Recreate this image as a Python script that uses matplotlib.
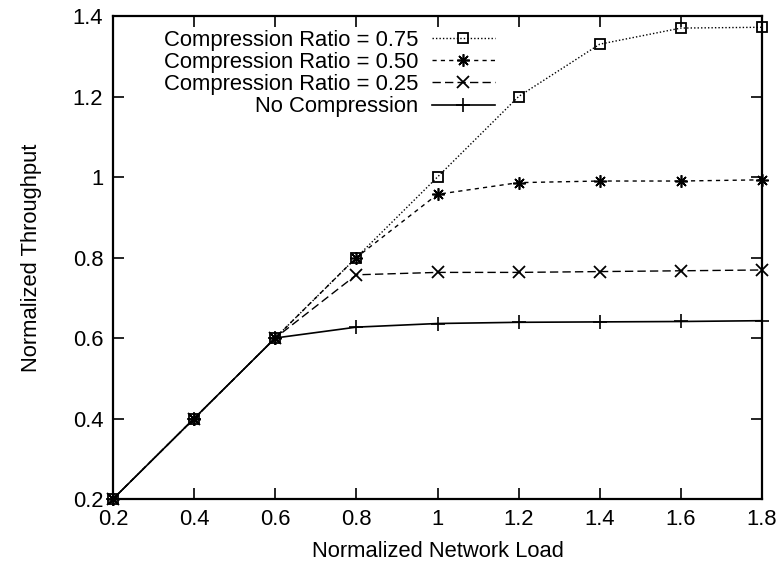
import matplotlib
matplotlib.use("Agg")
import matplotlib.pyplot as plt

plt.rcParams['font.family'] = ['Liberation Sans', 'DejaVu Sans']

load = [0.2, 0.4, 0.6, 0.8, 1.0, 1.2, 1.4, 1.6, 1.8]
ratio_075 = [0.2, 0.4, 0.6, 0.80, 1.00, 1.20, 1.33, 1.37, 1.372]
ratio_050 = [0.2, 0.4, 0.6, 0.80, 0.957, 0.986, 0.990, 0.990, 0.993]
ratio_025 = [0.2, 0.4, 0.6, 0.757, 0.763, 0.763, 0.765, 0.767, 0.769]
no_comp = [0.2, 0.4, 0.6, 0.627, 0.636, 0.639, 0.640, 0.641, 0.643]

labels = ["Compression Ratio = 0.75", "Compression Ratio = 0.50",
          "Compression Ratio = 0.25", "No Compression"]
xticks = [0.2, 0.4, 0.6, 0.8, 1.0, 1.2, 1.4, 1.6, 1.8]
xticklabels = ["0.2", "0.4", "0.6", "0.8", "1", "1.2", "1.4", "1.6", "1.8"]
yticks = [0.2, 0.4, 0.6, 0.8, 1.0, 1.2, 1.4]
yticklabels = ["0.2", "0.4", "0.6", "0.8", "1", "1.2", "1.4"]

fig = plt.figure(figsize=(7.84, 5.66), dpi=100)
ax = fig.add_axes([113/784, 1 - 499/566, (762-113)/784, (499-16)/566])

fs = 15.8
ax.plot(load, ratio_075, color='black', lw=1.0, linestyle=(0, (1, 1.5)),
        marker='s', markersize=7, markerfacecolor='none', markeredgewidth=1.3,
        label=labels[0], clip_on=False)
ax.plot(load, ratio_050, color='black', lw=1.0, linestyle=(0, (3, 3)),
        marker=(8, 2, 0), markersize=9, markeredgewidth=1.2, label=labels[1],
        clip_on=False)
ax.plot(load, ratio_025, color='black', lw=1.0, linestyle=(0, (6, 3)),
        marker='x', markersize=8, markeredgewidth=1.3, label=labels[2],
        clip_on=False)
ax.plot(load, no_comp, color='black', lw=1.2, linestyle='-',
        marker='+', markersize=10, markeredgewidth=1.2, label=labels[3],
        clip_on=False)

ax.set_xlim(0.2, 1.8)
ax.set_ylim(0.2, 1.4)
ax.set_xticks(xticks)
ax.set_xticklabels(xticklabels)
ax.set_yticks(yticks)
ax.set_yticklabels(yticklabels)
ax.tick_params(direction='in', length=8, width=1.2, top=True, right=True,
               labelsize=fs, pad=7)
for s in ax.spines.values():
    s.set_linewidth(1.6)

ax.set_xlabel("Normalized Network Load", fontsize=fs, labelpad=8)
ax.set_ylabel("Normalized Throughput", fontsize=fs, labelpad=22)

ax.legend(loc='upper right', bbox_to_anchor=(0.589, 0.972), frameon=False,
          markerfirst=False, fontsize=fs, handlelength=2.9, handletextpad=0.6,
          labelspacing=0.06, borderaxespad=0, borderpad=0)

fig.savefig("out.png", dpi=100)
